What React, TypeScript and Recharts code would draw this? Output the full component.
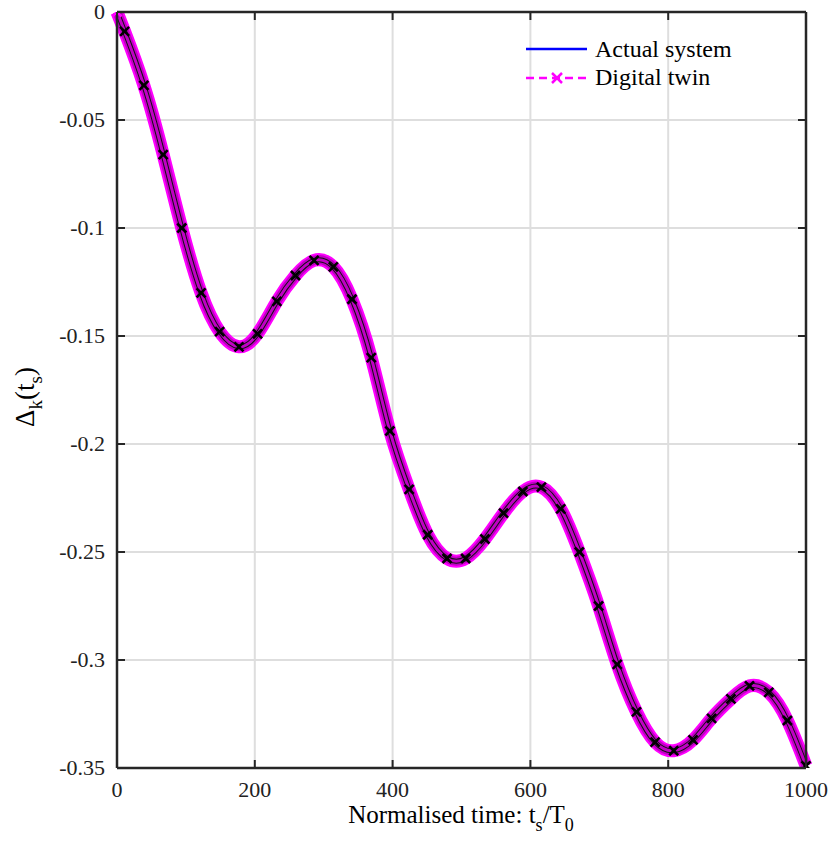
import React from 'react';
import { ComposedChart, Line, XAxis, YAxis, CartesianGrid, Legend } from 'recharts';

// normalised time of each sample (t_s / T_0)
const timeSteps = [
  0, 11, 39, 67, 94, 122, 149, 177, 204, 232, 259, 286, 314, 341, 369, 396, 424, 451, 479,
  506, 534, 561, 589, 616, 644, 671, 699, 726, 754, 781, 808, 836, 863, 891, 918, 946, 973, 1000,
];

// Delta_k(t_s), actual system
const actualSystem = [
  0, -0.009, -0.034, -0.066, -0.1, -0.13, -0.148, -0.155, -0.149, -0.134, -0.122, -0.115, -0.118,
  -0.133, -0.16, -0.194, -0.221, -0.242, -0.253, -0.253, -0.244, -0.232, -0.222, -0.22, -0.23,
  -0.25, -0.275, -0.302, -0.324, -0.338, -0.342, -0.337, -0.327, -0.318, -0.312, -0.315, -0.328,
  -0.349,
];

// Delta_k(t_s), digital twin (overlaps the actual system)
const digitalTwin = [
  0, -0.009, -0.034, -0.066, -0.1, -0.13, -0.148, -0.155, -0.149, -0.134, -0.122, -0.115, -0.118,
  -0.133, -0.16, -0.194, -0.221, -0.242, -0.253, -0.253, -0.244, -0.232, -0.222, -0.22, -0.23,
  -0.25, -0.275, -0.302, -0.324, -0.338, -0.342, -0.337, -0.327, -0.318, -0.312, -0.315, -0.328,
  -0.349,
];

const xTicks = [0, 200, 400, 600, 800, 1000];
const yTicks = [0, -0.05, -0.1, -0.15, -0.2, -0.25, -0.3, -0.35];
const yTickLabels = ['0', '-0.05', '-0.1', '-0.15', '-0.2', '-0.25', '-0.3', '-0.35'];

const FONT = "'Liberation Serif', 'DejaVu Serif', serif";
const AXIS = '#262626';

const data = timeSteps.map((t, i) => ({
  t,
  actual: actualSystem[i],
  twin: digitalTwin[i],
}));

const CrossDot = (props: any) => {
  const { cx, cy, index } = props;
  if (cx == null || cy == null) return <g key={`d-${index}`} />;
  const s = 4.5;
  const c = index === 0 ? '#ff00ff' : '#000';
  return (
    <g key={`d-${index}`}>
      <line x1={cx - s} y1={cy - s} x2={cx + s} y2={cy + s} stroke={c} strokeWidth={2.6} />
      <line x1={cx - s} y1={cy + s} x2={cx + s} y2={cy - s} stroke={c} strokeWidth={2.6} />
    </g>
  );
};

// inward ticks, MATLAB style
const BottomTick = (props: any) => {
  const { x, y, payload } = props;
  return (
    <g>
      <line x1={x} y1={y} x2={x} y2={y - 8} stroke={AXIS} strokeWidth={2} />
      <text x={x} y={y + 29} textAnchor="middle" style={{ fontFamily: FONT, fontSize: 22 }} fill="#222">
        {payload.value}
      </text>
    </g>
  );
};

const TopTick = (props: any) => {
  const { x, y } = props;
  return <line x1={x} y1={y} x2={x} y2={y + 8} stroke={AXIS} strokeWidth={2} />;
};

const LeftTick = (props: any) => {
  const { x, y, payload } = props;
  const i = yTicks.findIndex((v) => Math.abs(v - payload.value) < 1e-9);
  return (
    <g>
      <line x1={x} y1={y} x2={x + 8} y2={y} stroke={AXIS} strokeWidth={2} />
      <text x={x - 12} y={y + 7} textAnchor="end" style={{ fontFamily: FONT, fontSize: 22 }} fill="#222">
        {i >= 0 ? yTickLabels[i] : payload.value}
      </text>
    </g>
  );
};

const RightTick = (props: any) => {
  const { x, y } = props;
  return <line x1={x} y1={y} x2={x - 8} y2={y} stroke={AXIS} strokeWidth={2} />;
};

const LegendBox = () => (
  <svg width={280} height={70} style={{ display: 'block' }}>
    <line x1={4} y1={17} x2={65} y2={17} stroke="#0000ff" strokeWidth={2.5} />
    <text x={73} y={25} style={{ fontFamily: FONT, fontSize: 24 }} fill="#000">Actual system</text>
    <line x1={4} y1={46} x2={65} y2={46} stroke="#ff00ff" strokeWidth={2.5} strokeDasharray="8 5" />
    <line x1={30} y1={41} x2={40} y2={51} stroke="#ff00ff" strokeWidth={2.5} />
    <line x1={30} y1={51} x2={40} y2={41} stroke="#ff00ff" strokeWidth={2.5} />
    <text x={73} y={53} style={{ fontFamily: FONT, fontSize: 24 }} fill="#000">Digital twin</text>
  </svg>
);

const YLabel = () => (
  <text
    x={34}
    y={397}
    transform="rotate(-90, 34, 397)"
    textAnchor="middle"
    style={{ fontFamily: FONT, fontSize: 27 }}
    fill="#000"
  >
    Δ<tspan dy={8} style={{ fontSize: 19 }}>k</tspan>
    <tspan dy={-8}>(t</tspan>
    <tspan dy={8} style={{ fontSize: 19 }}>s</tspan>
    <tspan dy={-8}>)</tspan>
  </text>
);

const XLabel = () => (
  <text x={461} y={823} textAnchor="middle" style={{ fontFamily: FONT, fontSize: 25 }} fill="#000">
    Normalised time: t<tspan dy={8} style={{ fontSize: 18 }}>s</tspan>
    <tspan dy={-8}>/T</tspan>
    <tspan dy={8} style={{ fontSize: 18 }}>0</tspan>
  </text>
);

export default function App() {
  return (
    <div style={{ position: 'absolute', left: 0, top: 0, background: '#fff', fontFamily: FONT }}>
      <ComposedChart width={828} height={849} data={data} margin={{ top: 11, right: 21, bottom: 0, left: 0 }}>
        <CartesianGrid xAxisId="bottom" yAxisId="left" stroke="#dedede" strokeWidth={2} />
        <XAxis
          xAxisId="bottom"
          dataKey="t"
          type="number"
          domain={[0, 1000]}
          ticks={xTicks}
          interval={0}
          height={81}
          tickSize={0}
          tickMargin={0}
          tickLine={false}
          tick={<BottomTick />}
          axisLine={{ stroke: AXIS, strokeWidth: 2.5 }}
          label={<XLabel />}
        />
        <XAxis
          xAxisId="top"
          orientation="top"
          dataKey="t"
          type="number"
          domain={[0, 1000]}
          ticks={xTicks}
          interval={0}
          height={1}
          tickSize={0}
          tickMargin={0}
          tickLine={false}
          tick={<TopTick />}
          axisLine={{ stroke: AXIS, strokeWidth: 2.5 }}
        />
        <YAxis
          yAxisId="left"
          type="number"
          domain={[-0.35, 0]}
          ticks={yTicks}
          interval={0}
          allowDataOverflow
          width={117}
          tickSize={0}
          tickMargin={0}
          tickLine={false}
          tick={<LeftTick />}
          axisLine={{ stroke: AXIS, strokeWidth: 2.5 }}
          label={<YLabel />}
        />
        <YAxis
          yAxisId="right"
          orientation="right"
          type="number"
          domain={[-0.35, 0]}
          ticks={yTicks}
          interval={0}
          allowDataOverflow
          width={1}
          tickSize={0}
          tickMargin={0}
          tickLine={false}
          tick={<RightTick />}
          axisLine={{ stroke: AXIS, strokeWidth: 2.5 }}
        />
        <Legend
          layout="horizontal"
          verticalAlign="middle"
          align="center"
          content={<LegendBox />}
          wrapperStyle={{ position: 'absolute', left: 522, top: 32, width: 280, height: 70 }}
        />
        <Line xAxisId="bottom" yAxisId="left" type="natural" dataKey="actual" name="Actual system"
          stroke="#0000ff" strokeWidth={2} dot={false} isAnimationActive={false} />
        <Line xAxisId="bottom" yAxisId="left" type="natural" dataKey="twin" name="Digital twin"
          stroke="#ff00ff" strokeWidth={13} dot={false} isAnimationActive={false} legendType="none" />
        <Line xAxisId="bottom" yAxisId="left" type="natural" dataKey="twin"
          stroke="#c000c4" strokeWidth={9} dot={false} isAnimationActive={false} legendType="none" />
        <Line xAxisId="bottom" yAxisId="left" type="natural" dataKey="twin"
          stroke="#111" strokeWidth={5} dot={false} isAnimationActive={false} legendType="none" />
        <Line xAxisId="bottom" yAxisId="left" type="natural" dataKey="twin"
          stroke="#c000c4" strokeWidth={3} dot={<CrossDot />} isAnimationActive={false} legendType="none" />
      </ComposedChart>
    </div>
  );
}
